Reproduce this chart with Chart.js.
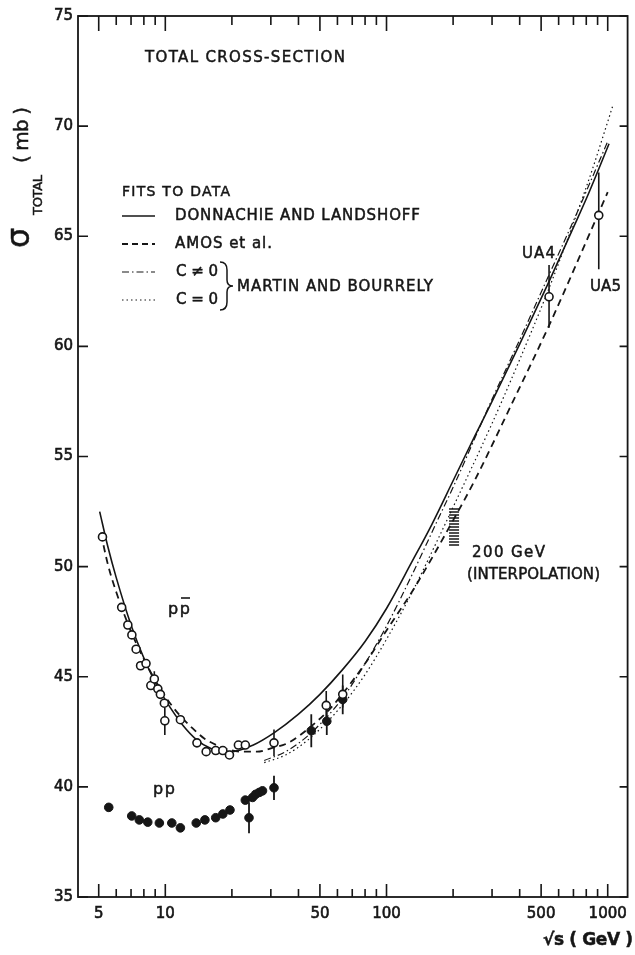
<!DOCTYPE html>
<html lang="en">
<head>
<meta charset="UTF-8" />
<title>Total cross-section</title>
<script src="https://cdn.jsdelivr.net/npm/chart.js"></script>
<style>
  html, body { margin: 0; padding: 0; background: #fff; }
</style>
</head>
<body>
<canvas id="xsec" width="635" height="955"></canvas>
<script>
// measured points, sqrt(s) in GeV and sigma in mb
const ppbarE = [5.2, 6.35, 6.77, 7.06, 7.38, 7.73, 8.18, 8.6, 8.92, 9.25, 9.5, 9.9, 9.95, 11.7, 13.9, 15.3, 16.9, 18.2, 19.5, 21.4, 23.0, 31.0, 53.4, 63.4, 543, 911];
const ppbarSigma = [51.35, 48.15, 47.35, 46.9, 46.25, 45.5, 45.6, 44.6, 44.9, 44.45, 44.2, 43.8, 43.0, 43.05, 42.0, 41.6, 41.65, 41.65, 41.45, 41.9, 41.9, 42.0, 43.7, 44.2, 62.25, 65.95];
const ppbarBarE = [8.92, 9.95, 31.0, 53.4, 63.4, 543, 911];
const ppbarBarLo = [44.55, 42.35, 41.4, 43.1, 43.6, 60.85, 63.5];
const ppbarBarHi = [45.25, 43.6, 42.6, 44.35, 45.1, 63.7, 67.9];

const ppE = [5.55, 7.05, 7.63, 8.33, 9.4, 10.7, 11.7, 13.8, 15.1, 16.9, 18.2, 19.6, 23.0, 23.9, 24.8, 25.6, 26.6, 27.5, 31.0, 45.7, 53.7, 63.4];
const ppSigma = [39.07, 38.68, 38.5, 38.4, 38.36, 38.36, 38.14, 38.36, 38.5, 38.6, 38.77, 38.95, 39.4, 38.6, 39.52, 39.66, 39.75, 39.82, 39.96, 42.55, 42.98, 43.97];
const ppBarE = [23.9, 31.0, 45.7, 53.7, 63.4];
const ppBarLo = [37.9, 39.4, 41.8, 42.36, 43.3];
const ppBarHi = [39.3, 40.5, 43.3, 43.6, 44.6];

// fits to data
const dlE = [5.05, 5.5, 6, 7, 8, 9, 10, 12, 14, 16, 18, 20, 25, 31, 40, 50, 63, 80, 100, 130, 160, 200, 250, 300, 400, 546, 700, 824, 1014];
const dlSigma = [52.5, 50.9, 49.5, 47.35, 45.85, 44.75, 43.95, 42.8, 42.1, 41.75, 41.6, 41.6, 41.9, 42.45, 43.3, 44.2, 45.3, 46.6, 48.1, 50.2, 51.9, 53.9, 55.9, 57.5, 60.1, 63.0, 65.4, 67.0, 69.2];
const amosE = [5.12, 5.5, 6, 7, 8, 9, 10, 11.5, 13, 15, 18, 22, 26, 30, 36, 45, 55, 63, 80, 100, 133, 200, 250, 373, 546, 1000];
const amosSigma = [51.5, 50.1, 48.85, 47.05, 45.8, 44.85, 44.1, 43.3, 42.75, 42.2, 41.8, 41.6, 41.6, 41.75, 42.0, 42.7, 43.5, 44.2, 45.6, 47.1, 49.0, 52.1, 53.9, 57.5, 61.0, 67.0];
const cNonZeroE = [28, 35, 45, 63, 80, 100, 130, 170, 200, 300, 400, 546, 700, 1000];
const cNonZeroSigma = [41.2, 41.6, 42.4, 44.0, 45.6, 47.3, 49.6, 52.1, 53.6, 57.6, 60.3, 63.3, 65.7, 69.3];
const cZeroE = [28, 35, 45, 63, 80, 100, 130, 170, 200, 300, 400, 546, 700, 850, 1000, 1060];
const cZeroSigma = [41.1, 41.45, 42.2, 43.7, 45.1, 46.7, 48.8, 51.2, 52.7, 56.5, 59.4, 62.7, 65.6, 68.0, 70.2, 71.0];

// 200 GeV interpolation band
const interpE = 202;
const interpLo = 50.95;
const interpHi = 52.65;

// axes
const xTickVals = [5, 6, 7, 8, 9, 10, 20, 30, 40, 50, 60, 70, 80, 90, 100, 200, 300, 400, 500, 600, 700, 800, 900, 1000];
const xLabelVals = [5, 10, 50, 100, 500, 1000];
const yTickVals = [35, 40, 45, 50, 55, 60, 65, 70, 75];

const ink = "#161616";
const face = "'DejaVu Sans', sans-serif";

function pts(E, S) {
  return E.map((e, i) => ({ x: e, y: S[i] }));
}
function bars(E, lo, hi) {
  const d = [];
  E.forEach((e, i) => {
    d.push({ x: e, y: lo[i] }, { x: e, y: hi[i] }, { x: e, y: null });
  });
  return d;
}

// text spread to a given width, lightly stroked so it reads like the lettering
function label(ctx, s, x, y, size, w, weight) {
  ctx.font = (weight || "normal") + " " + size + "px " + face;
  ctx.letterSpacing = "0px";
  if (w) {
    const nat = ctx.measureText(s).width;
    ctx.letterSpacing = ((w - nat) / Math.max(1, s.length - 1)) + "px";
  }
  ctx.fillText(s, x, y);
  ctx.lineWidth = 0.5;
  ctx.strokeText(s, x, y);
  ctx.letterSpacing = "0px";
}

const decor = {
  id: "decor",
  afterDraw(chart) {
    const ctx = chart.ctx;
    const ca = chart.chartArea;
    const xs = chart.scales.x, ys = chart.scales.y;
    ctx.save();
    ctx.strokeStyle = ink;
    ctx.fillStyle = ink;

    // frame
    ctx.lineWidth = 1.8;
    ctx.strokeRect(ca.left, ca.top, ca.right - ca.left, ca.bottom - ca.top);

    // inward ticks
    ctx.lineWidth = 1.6;
    ctx.beginPath();
    xTickVals.forEach(v => {
      const px = xs.getPixelForValue(v);
      const major = xLabelVals.includes(v);
      ctx.moveTo(px, ca.bottom);
      ctx.lineTo(px, ca.bottom - (major ? 13 : 8));
      ctx.moveTo(px, ca.top);
      ctx.lineTo(px, ca.top + (major ? 15 : 9));
    });
    yTickVals.forEach(v => {
      const py = ys.getPixelForValue(v);
      ctx.moveTo(ca.left, py);
      ctx.lineTo(ca.left + 10, py);
      ctx.moveTo(ca.right, py);
      ctx.lineTo(ca.right - 8, py);
    });
    ctx.stroke();

    ctx.textBaseline = "middle";
    ctx.textAlign = "left";
    label(ctx, "TOTAL CROSS-SECTION", 145, 58, 15, 200);
    label(ctx, "FITS TO DATA", 122, 192, 14, 108);
    label(ctx, "DONNACHIE AND LANDSHOFF", 175, 216, 15, 245);
    label(ctx, "AMOS et al.", 175, 244, 15, 97);
    label(ctx, "C \u2260 0", 176, 272, 15, 42);
    label(ctx, "C = 0", 176, 300, 15, 42);
    label(ctx, "MARTIN AND BOURRELY", 237, 287, 15, 196);
    label(ctx, "UA4", 522, 254, 15, 33);
    label(ctx, "UA5", 590, 287, 15, 31);
    label(ctx, "200 GeV", 472, 553, 15, 73);
    label(ctx, "(INTERPOLATION)", 467, 575, 15, 133);
    label(ctx, "pp", 168, 610, 16, 22);
    label(ctx, "pp", 153, 790, 16, 22);
    // bar over the antiproton
    ctx.lineWidth = 1.6;
    ctx.beginPath();
    ctx.moveTo(181, 598);
    ctx.lineTo(190, 598);
    ctx.stroke();

    // legend samples
    const samples = [[216, [], 1.4], [244, [6, 4], 1.8], [272, [7, 3, 1.5, 3], 1.2], [300, [1.5, 3], 1.2]];
    samples.forEach(([y, dash, lw]) => {
      ctx.setLineDash(dash);
      ctx.lineWidth = lw;
      ctx.beginPath();
      ctx.moveTo(122, y);
      ctx.lineTo(155, y);
      ctx.stroke();
    });
    ctx.setLineDash([]);

    // brace
    ctx.lineWidth = 1.5;
    ctx.beginPath();
    ctx.moveTo(220, 262);
    ctx.quadraticCurveTo(227, 262, 227, 270);
    ctx.lineTo(227, 280);
    ctx.quadraticCurveTo(227, 286, 233, 286);
    ctx.quadraticCurveTo(227, 286, 227, 292);
    ctx.lineTo(227, 302);
    ctx.quadraticCurveTo(227, 310, 220, 310);
    ctx.stroke();

    // axis titles
    label(ctx, "\u221As ( GeV )", 543, 941, 17, 90, "bold");

    ctx.save();
    ctx.translate(29, 248);
    ctx.rotate(-Math.PI / 2);
    ctx.textBaseline = "alphabetic";
    label(ctx, "\u03C3", 0, 0, 32);
    label(ctx, "TOTAL", 33, 13, 13, 40);
    label(ctx, "( mb )", 85, -1, 20, 56);
    ctx.restore();

    ctx.restore();
  }
};

const tickFont = { family: face, size: 15 };

new Chart(document.getElementById("xsec"), {
  type: "scatter",
  data: {
    datasets: [
      {
        label: "pp\u0304",
        data: pts(ppbarE, ppbarSigma),
        pointRadius: 4,
        pointBackgroundColor: "#fff",
        pointBorderColor: ink,
        pointBorderWidth: 1.6
      },
      {
        label: "pp",
        data: pts(ppE, ppSigma),
        pointRadius: 4.3,
        pointBackgroundColor: ink,
        pointBorderColor: ink,
        pointBorderWidth: 1
      },
      {
        label: "pp\u0304 errors",
        data: bars(ppbarBarE, ppbarBarLo, ppbarBarHi),
        showLine: true,
        spanGaps: false,
        pointRadius: 0,
        borderColor: ink,
        borderWidth: 1.6
      },
      {
        label: "pp errors",
        data: bars(ppBarE, ppBarLo, ppBarHi),
        showLine: true,
        spanGaps: false,
        pointRadius: 0,
        borderColor: ink,
        borderWidth: 1.8
      },
      {
        label: "Donnachie and Landshoff",
        data: pts(dlE, dlSigma),
        showLine: true,
        pointRadius: 0,
        borderColor: ink,
        borderWidth: 1.6,
        cubicInterpolationMode: "monotone"
      },
      {
        label: "Amos et al.",
        data: pts(amosE, amosSigma),
        showLine: true,
        pointRadius: 0,
        borderColor: ink,
        borderWidth: 1.8,
        borderDash: [7, 5],
        cubicInterpolationMode: "monotone"
      },
      {
        label: "C \u2260 0",
        data: pts(cNonZeroE, cNonZeroSigma),
        showLine: true,
        pointRadius: 0,
        borderColor: ink,
        borderWidth: 1.2,
        borderDash: [7, 3, 1.5, 3],
        cubicInterpolationMode: "monotone"
      },
      {
        label: "C = 0",
        data: pts(cZeroE, cZeroSigma),
        showLine: true,
        pointRadius: 0,
        borderColor: ink,
        borderWidth: 1.2,
        borderDash: [1.5, 3],
        cubicInterpolationMode: "monotone"
      },
      {
        label: "200 GeV (interpolation)",
        data: [{ x: interpE, y: interpLo }, { x: interpE, y: interpHi }],
        showLine: true,
        pointRadius: 0,
        borderColor: ink,
        borderWidth: 10,
        borderDash: [1.5, 1.5],
        borderCapStyle: "butt"
      }
    ]
  },
  options: {
    responsive: false,
    animation: false,
    layout: { padding: { top: 16, right: 2, left: 0, bottom: 0 } },
    plugins: { legend: { display: false }, tooltip: { enabled: false } },
    scales: {
      x: {
        type: "logarithmic",
        min: 4.03,
        max: 1230,
        grid: { display: false, drawTicks: false },
        border: { display: false },
        afterBuildTicks: axis => { axis.ticks = xLabelVals.map(v => ({ value: v })); },
        afterFit: axis => { axis.height = 58; },
        ticks: {
          autoSkip: false,
          maxRotation: 0,
          padding: 8,
          color: ink,
          font: tickFont,
          textStrokeColor: ink,
          textStrokeWidth: 0.6,
          callback: v => String(v)
        }
      },
      y: {
        min: 35,
        max: 75,
        grid: { display: false, drawTicks: false },
        border: { display: false },
        afterFit: axis => { axis.width = 78; },
        ticks: { stepSize: 5, padding: 5, color: ink, font: tickFont, textStrokeColor: ink, textStrokeWidth: 0.6 }
      }
    }
  },
  plugins: [decor]
});
</script>
</body>
</html>
